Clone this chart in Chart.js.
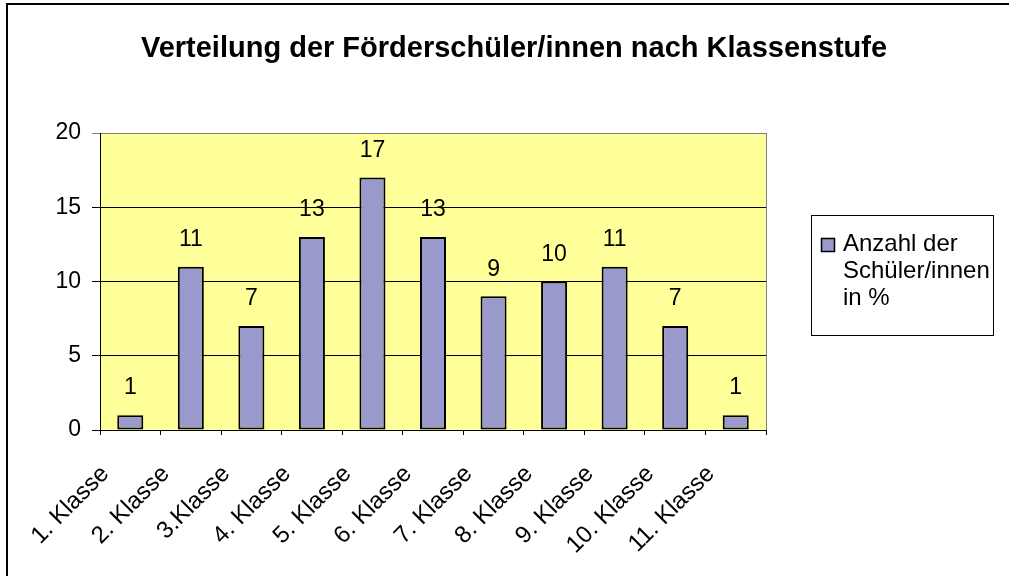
<!DOCTYPE html>
<html>
<head>
<meta charset="utf-8">
<script src="https://cdn.jsdelivr.net/npm/chart.js@4/dist/chart.umd.min.js"></script>
<style>
  html, body { margin: 0; padding: 0; background: #fff; }
  #wrap { width: 1009px; height: 576px; }
</style>
</head>
<body>
<div id="wrap"><canvas id="myChart"></canvas></div>
<script>
// Daten
var klassen = ['1. Klasse', '2. Klasse', '3.Klasse', '4. Klasse', '5. Klasse', '6. Klasse',
               '7. Klasse', '8. Klasse', '9. Klasse', '10. Klasse', '11. Klasse'];
var anteil = [1, 11, 7, 13, 17, 13, 9, 10, 11, 7, 1];
var yTicks = [0, 5, 10, 15, 20];
var titel = 'Verteilung der Förderschüler/innen nach Klassenstufe';
var legendeZeilen = ['Anzahl der', 'Schüler/innen', 'in %'];

var schrift = "'Liberation Sans', Arial, sans-serif";
var balkenFarbe = '#9999cc';

// Hintergrund, Titel, Rahmen, Werte und Legende
var excelLook = {
    id: 'excelLook',
    beforeDraw: function (chart) {
        var c = chart.ctx, a = chart.chartArea;
        c.save();
        c.fillStyle = '#ffffff';
        c.fillRect(0, 0, chart.width, chart.height);
        c.fillStyle = '#ffff99';
        c.fillRect(a.left, a.top, a.right - a.left, a.bottom - a.top);
        c.restore();
    },
    afterDatasetsDraw: function (chart) {
        var c = chart.ctx;
        var meta = chart.getDatasetMeta(0);
        c.save();
        c.font = '23px ' + schrift;
        c.fillStyle = '#000';
        c.textAlign = 'center';
        c.textBaseline = 'middle';
        meta.data.forEach(function (bar, i) {
            c.fillText(String(anteil[i]), bar.x, bar.y - 27);
        });
        c.restore();
    },
    afterDraw: function (chart) {
        var c = chart.ctx, a = chart.chartArea;
        c.save();
        // Titel
        c.fillStyle = '#000';
        c.font = 'bold 29px ' + schrift;
        c.textAlign = 'center';
        c.textBaseline = 'alphabetic';
        c.fillText(titel, 514, 57);

        // rechter Rand der Zeichenfläche
        c.strokeStyle = '#808080';
        c.lineWidth = 1;
        c.beginPath();
        c.moveTo(a.right + 0.5, a.top);
        c.lineTo(a.right + 0.5, a.bottom);
        c.stroke();

        // Legende
        c.fillStyle = '#fff';
        c.fillRect(811, 215, 182, 120);
        c.strokeStyle = '#000';
        c.strokeRect(811.5, 215.5, 182, 120);
        c.fillStyle = balkenFarbe;
        c.fillRect(821, 238, 14, 14);
        c.lineWidth = 1.5;
        c.strokeRect(821.5, 238.5, 13, 13);
        c.fillStyle = '#000';
        c.font = '24px ' + schrift;
        c.textAlign = 'left';
        c.textBaseline = 'alphabetic';
        legendeZeilen.forEach(function (t, i) {
            c.fillText(t, 843, 251 + i * 27);
        });

        // äußerer Rahmen
        c.lineWidth = 2;
        c.strokeStyle = '#000';
        c.beginPath();
        c.moveTo(7, chart.height);
        c.lineTo(7, 4);
        c.lineTo(chart.width, 4);
        c.stroke();
        c.restore();
    }
};

var ctx = document.getElementById('myChart').getContext('2d');
var myChart = new Chart(ctx, {
    type: 'bar',
    data: {
        labels: klassen,
        datasets: [{
            label: legendeZeilen.join(' '),
            data: anteil,
            backgroundColor: balkenFarbe,
            borderColor: '#000',
            borderWidth: 2,
            borderSkipped: false,
            categoryPercentage: 1,
            barPercentage: 0.43
        }]
    },
    options: {
        responsive: true,
        maintainAspectRatio: false,
        animation: false,
        devicePixelRatio: 1,
        layout: { padding: { left: 0, right: 243, top: 133, bottom: 0 } },
        plugins: {
            legend: { display: false },
            tooltip: { enabled: false },
            title: { display: false }
        },
        scales: {
            x: {
                afterFit: function (s) { s.height = 146; },
                grid: {
                    offset: true,
                    drawOnChartArea: false,
                    drawTicks: true,
                    tickLength: 5,
                    color: '#000'
                },
                border: { color: '#000', width: 1 },
                ticks: {
                    color: '#000',
                    font: { family: schrift, size: 24 },
                    minRotation: 45,
                    maxRotation: 45,
                    autoSkip: false,
                    labelOffset: -25,
                    padding: 25
                }
            },
            y: {
                min: 0,
                max: 20,
                afterFit: function (s) { s.width = 100; },
                afterBuildTicks: function (s) {
                    s.ticks = yTicks.map(function (v) { return { value: v }; });
                },
                grid: {
                    color: function (c) { return c.tick && c.tick.value === 20 ? '#808080' : '#000'; },
                    tickLength: 8,
                    lineWidth: 1
                },
                border: { color: '#000', width: 1 },
                ticks: {
                    color: '#000',
                    font: { family: schrift, size: 23 },
                    padding: 11
                }
            }
        }
    },
    plugins: [excelLook]
});
</script>
</body>
</html>
